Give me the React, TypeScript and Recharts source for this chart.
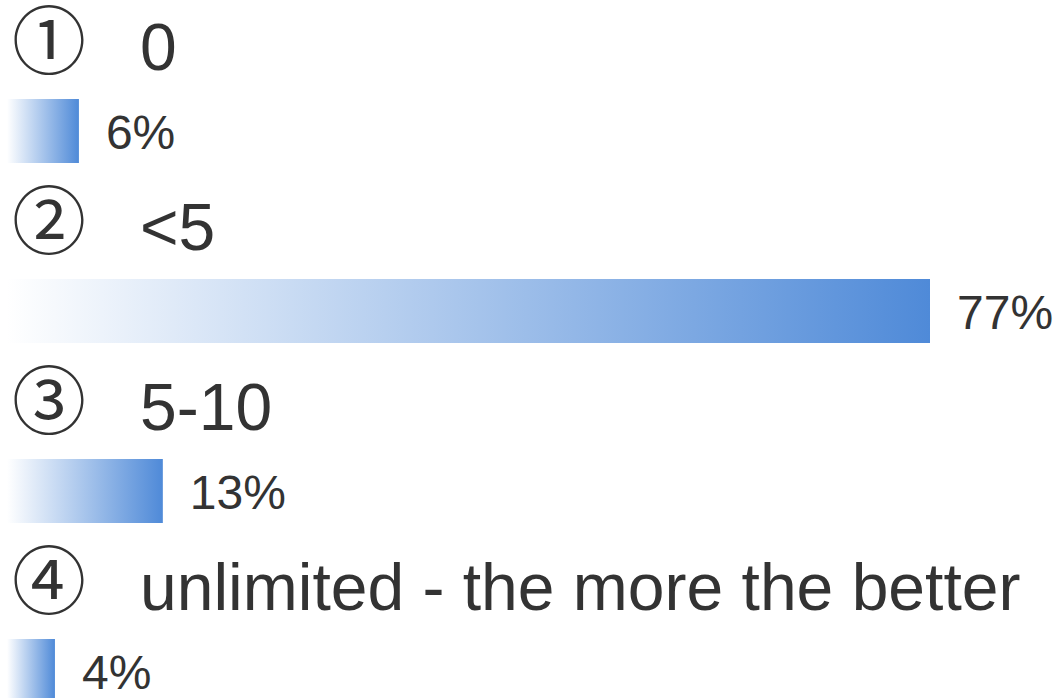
import React from 'react';
import { BarChart, Bar, XAxis, YAxis, LabelList } from 'recharts';

const categories = ['0', '<5', '5-10', 'unlimited - the more the better'];
const markers = ['①', '②', '③', '④'];
const shares = [6, 77, 13, 4];

const rows = categories.map((name, i) => ({ name, marker: markers[i], share: shares[i] }));

const FONT = '"Liberation Sans", Arial, "Noto Sans CJK SC", sans-serif';
const INK = '#333333';

const CategoryLabel = (props: any) => {
  const { x, y, index } = props;
  const base = y - 29;
  return (
    <g>
      <text x={x + 5} y={base - 2} fontSize={74} fill={INK} fontFamily={FONT}>
        {rows[index].marker}
      </text>
      <text x={x + 133} y={base} fontSize={66} fill={INK} fontFamily={FONT}>
        {rows[index].name}
      </text>
    </g>
  );
};

const ShareLabel = (props: any) => {
  const { x, y, width, height, value } = props;
  return (
    <text x={x + width + 27} y={y + height / 2 + 18} fontSize={48} fill={INK} fontFamily={FONT}>
      {`${value}%`}
    </text>
  );
};

export default function App() {
  return (
    <div style={{ position: 'absolute', left: 0, top: 0, width: 1057, height: 698, overflow: 'hidden', background: '#fff' }}>
      <BarChart
        width={1057}
        height={761}
        data={rows}
        layout="vertical"
        margin={{ top: 41, right: 127, bottom: 0, left: 7 }}
        barSize={64}
      >
        <defs>
          <linearGradient id="barFade" x1="0" y1="0" x2="1" y2="0">
            <stop offset="0%" stopColor="#ffffff" />
            <stop offset="100%" stopColor="#4f8ad8" />
          </linearGradient>
        </defs>
        <XAxis type="number" domain={[0, 77]} hide />
        <YAxis type="category" dataKey="name" hide />
        <Bar dataKey="share" fill="url(#barFade)" isAnimationActive={false}>
          <LabelList dataKey="name" content={<CategoryLabel />} />
          <LabelList dataKey="share" content={<ShareLabel />} />
        </Bar>
      </BarChart>
    </div>
  );
}
